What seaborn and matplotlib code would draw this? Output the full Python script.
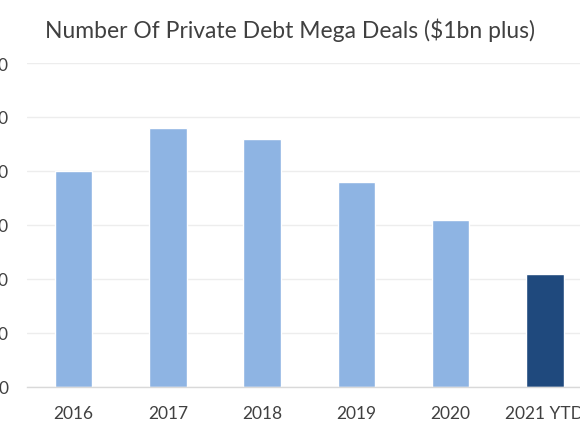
import matplotlib
matplotlib.use('Agg')
import matplotlib.pyplot as plt
import seaborn as sns
import pandas as pd

# chart data
years = ['2016', '2017', '2018', '2019', '2020', '2021 YTD']
deals = [40, 48, 46, 38, 31, 21]
y_ticks = [0, 10, 20, 30, 40, 50, 60]

light_blue = '#8EB4E3'
dark_blue = '#1F497D'
text_color = '#404040'

sns.set_style('white')
plt.rcParams['font.family'] = ['Lato', 'DejaVu Sans']

df = pd.DataFrame({'Year': years, 'Deals': deals})
colors = [light_blue] * (len(years) - 1) + [dark_blue]

fig = plt.figure(figsize=(5.8, 4.35), dpi=100)
# axes runs a little past the right edge, like the cropped original
ax = fig.add_axes([26.5 / 580, 47 / 435, 565.5 / 580, 324 / 435])

sns.barplot(data=df, x='Year', y='Deals', hue='Year', palette=colors,
            legend=False, width=0.4, saturation=1, ax=ax)

ax.set_xlim(-0.5, len(years) - 0.5)
ax.set_ylim(0, 60)
ax.set_yticks(y_ticks)
ax.yaxis.grid(True, color='#EDEDED', linewidth=1)
ax.set_axisbelow(True)
for side in ['top', 'right', 'left']:
    ax.spines[side].set_visible(False)
ax.spines['bottom'].set_color('#D9D9D9')
ax.spines['bottom'].set_linewidth(1)

ax.tick_params(axis='x', length=0, pad=13, labelsize=12.5, labelcolor=text_color)
ax.tick_params(axis='y', length=0, pad=13, labelsize=12.5, labelcolor=text_color)
ax.set_xlabel('')
ax.set_ylabel('')

fig.text(290 / 580, 1 - 30 / 435, 'Number Of Private Debt Mega Deals ($1bn plus)',
         ha='center', va='center', fontsize=16.5, color=text_color)

plt.savefig('out.png', dpi=100)
